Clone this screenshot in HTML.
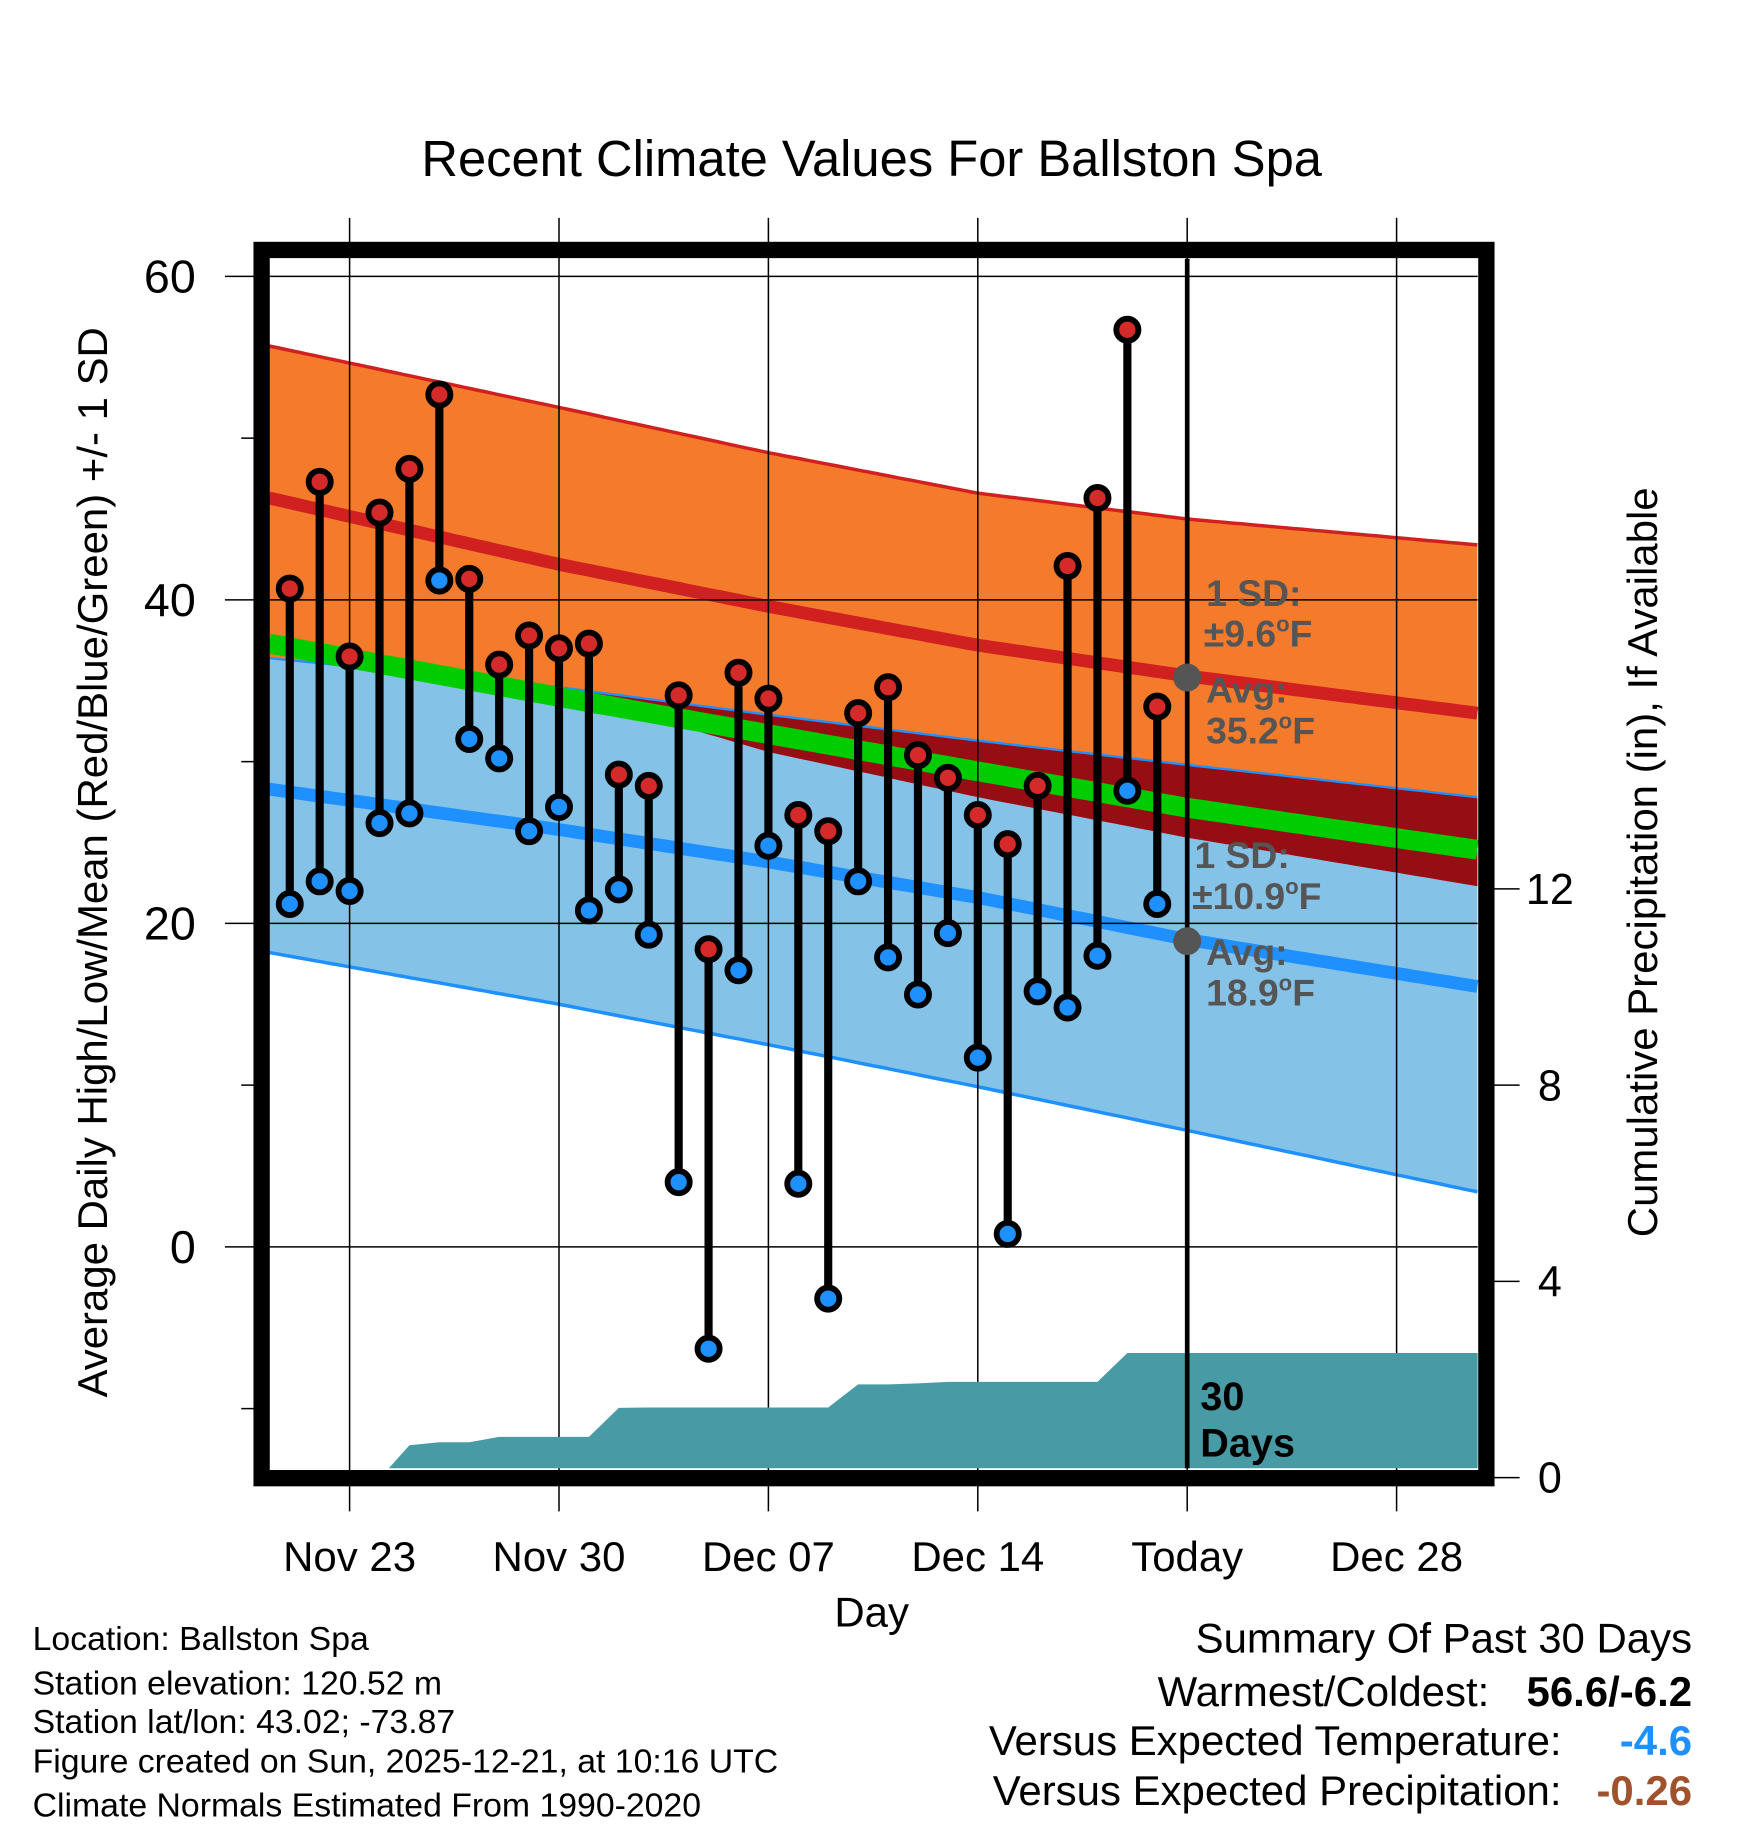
<!DOCTYPE html>
<html><head><meta charset="utf-8"><style>
html,body{margin:0;padding:0;background:#fff;}
svg{display:block;font-family:"Liberation Sans",Arial,sans-serif;}
</style></head><body>
<svg id="chart" xmlns="http://www.w3.org/2000/svg" width="1748" height="1828" viewBox="0 0 1500 1568.7" preserveAspectRatio="none">
<text x="748" y="151" font-size="43.5" text-anchor="middle">Recent Climate Values For Ballston Spa</text>
<g id="bands"></g>
<g id="grid"></g>
<g id="precip"></g>
<g id="marks"></g>
<g id="annot">
<text x="1035" y="520" font-size="32" font-weight="bold" fill="#555">1 SD:</text>
<text x="1033" y="555" font-size="32" font-weight="bold" fill="#555">±9.6<tspan dy="-13" font-size="19">o</tspan><tspan dy="13">F</tspan></text>
<text x="1035" y="603" font-size="32" font-weight="bold" fill="#555">Avg:</text>
<text x="1035" y="638" font-size="32" font-weight="bold" fill="#555">35.2<tspan dy="-13" font-size="19">o</tspan><tspan dy="13">F</tspan></text>
<text x="1025" y="745" font-size="32" font-weight="bold" fill="#555">1 SD:</text>
<text x="1023" y="780" font-size="32" font-weight="bold" fill="#555">±10.9<tspan dy="-13" font-size="19">o</tspan><tspan dy="13">F</tspan></text>
<text x="1035" y="828" font-size="32" font-weight="bold" fill="#555">Avg:</text>
<text x="1035" y="863" font-size="32" font-weight="bold" fill="#555">18.9<tspan dy="-13" font-size="19">o</tspan><tspan dy="13">F</tspan></text>
<text x="1030" y="1210" font-size="34" font-weight="bold">30</text>
<text x="1030" y="1250" font-size="34" font-weight="bold">Days</text>
</g>
<rect x="224.5" y="214.5" width="1051" height="1054" fill="none" stroke="#000" stroke-width="14"/>
<text x="748" y="1396" font-size="36" text-anchor="middle">Day</text>
<text transform="translate(92,740) rotate(-90)" font-size="36" text-anchor="middle">Average Daily High/Low/Mean (Red/Blue/Green) +/- 1 SD</text>
<text transform="translate(1422,740) rotate(-90)" font-size="36" text-anchor="middle">Cumulative Precipitation (in), If Available</text>
<g font-size="29">
<text x="28" y="1416">Location: Ballston Spa</text>
<text x="28" y="1454">Station elevation: 120.52 m</text>
<text x="28" y="1487">Station lat/lon: 43.02; -73.87</text>
<text x="28" y="1521">Figure created on Sun, 2025-12-21, at 10:16 UTC</text>
<text x="28" y="1559">Climate Normals Estimated From 1990-2020</text>
</g>
<g font-size="36">
<text x="1452" y="1418" text-anchor="end">Summary Of Past 30 Days</text>
<text x="1278" y="1464" text-anchor="end">Warmest/Coldest:</text>
<text x="1452" y="1464" text-anchor="end" font-weight="bold">56.6/-6.2</text>
<text x="1340" y="1506" text-anchor="end">Versus Expected Temperature:</text>
<text x="1452" y="1506" text-anchor="end" font-weight="bold" fill="#1E90FF">-4.6</text>
<text x="1340" y="1549" text-anchor="end">Versus Expected Precipitation:</text>
<text x="1452" y="1549" text-anchor="end" font-weight="bold" fill="#A0522D">-0.26</text>
</g>
</svg>
<script>
// data (days relative to Nov 23 = 0)
const obsDays = [-2,-1,0,1,2,3,4,5,6,7,8,9,10,11,12,13,14,15,16,17,18,19,20,21,22,23,24,25,26,27];
const highs = [40.7,47.3,36.5,45.4,48.1,52.7,41.3,36.0,37.8,37.0,37.3,29.2,28.5,34.1,18.4,35.5,33.9,26.7,25.7,33.0,34.6,30.4,29.0,26.7,24.9,28.5,42.1,46.3,56.7,33.4];
const lows = [21.2,22.6,22.0,26.2,26.8,41.2,31.4,30.2,25.7,27.2,20.8,22.1,19.3,4.0,-6.3,17.1,24.8,3.9,-3.2,22.6,17.9,15.6,19.4,11.7,0.8,15.8,14.8,18.0,28.2,21.2];
const precip = [0,0,0,0,0.66,0.72,0.72,0.83,0.83,0.83,0.83,1.42,1.43,1.43,1.43,1.43,1.43,1.43,1.43,1.90,1.90,1.92,1.95,1.95,1.95,1.95,1.95,1.95,2.54,2.54];
const normDays = [-2.69,7,14,21,28,37.7];
const normHighUpper = [55.7,51.9,49.1,46.6,45.0,43.4];
const normHigh = [46.3,42.2,39.6,37.2,35.3,33.0];
const normHighLower = [38.5,34.4,30.6,27.8,25.3,22.3];
const normLowUpper = [36.4,34.6,32.9,31.3,29.8,27.8];
const normLow = [28.3,25.8,23.8,21.6,19.0,16.1];
const normLowLower = [18.2,15.0,12.5,9.9,7.2,3.4];
const xTickDays = [0,7,14,21,28,35];
const xTickLabels = ["Nov 23","Nov 30","Dec 07","Dec 14","Today","Dec 28"];
const yTicks = [0,20,40,60];
const yMinor = [-10,10,30,50];
const y2Ticks = [0,4,8,12];

const NS="http://www.w3.org/2000/svg";
const L=231,R=1268,T=222,B=1260;
const xS=d=>300+d*25.67;
const yS=v=>1070-v*13.88;
const y2S=p=>1268-p*42.1;
function mk(tag,attrs,parent){const e=document.createElementNS(NS,tag);for(const k in attrs)e.setAttribute(k,attrs[k]);parent.appendChild(e);return e;}
function interp(arr,d){for(let i=0;i<normDays.length-1;i++){if(d<=normDays[i+1]||i==normDays.length-2){const t=(d-normDays[i])/(normDays[i+1]-normDays[i]);return arr[i]+t*(arr[i+1]-arr[i]);}}}
const samp=[];for(let d=normDays[0];d<=normDays[5]+1e-6;d+=0.25)samp.push(d);
if(samp[samp.length-1]<normDays[5])samp.push(normDays[5]);
function band(topF,botF,fill,name){
  let pts=samp.map(d=>xS(d).toFixed(1)+","+yS(topF(d)).toFixed(1));
  pts=pts.concat(samp.slice().reverse().map(d=>xS(d).toFixed(1)+","+yS(botF(d)).toFixed(1)));
  const p=mk('polygon',{points:pts.join(' '),fill:fill},bands);
  
  
}
function line(f,stroke,w,name){
  const p=mk('polyline',{points:samp.map(d=>xS(d).toFixed(1)+","+yS(f(d)).toFixed(1)).join(' '),fill:'none',stroke:stroke,'stroke-width':w},bands);
  
  
}
const bands=document.getElementById('bands');
band(d=>interp(normHighUpper,d),d=>Math.min(interp(normHighLower,d),interp(normLowUpper,d)),'#F47A2C','high-sd-band');
band(d=>interp(normLowUpper,d),d=>interp(normLowLower,d),'#84C2E8','low-sd-band');
band(d=>interp(normLowUpper,d),d=>Math.min(interp(normHighLower,d),interp(normLowUpper,d)),'#960E14','overlap-band');
line(d=>interp(normLowUpper,d),'#1E90FF',2,'low-upper-line');
line(d=>(interp(normHigh,d)+interp(normLow,d))/2,'#00CC00',17,'mean-line');
line(d=>interp(normHigh,d),'#D02020',11,'normal-high-line');
line(d=>interp(normLow,d),'#1E90FF',11,'normal-low-line');
line(d=>interp(normHighUpper,d),'#D02020',3,'high-upper-line');
line(d=>interp(normLowLower,d),'#1E90FF',3,'low-lower-line');

const grid=document.getElementById('grid');
xTickDays.forEach((d,i)=>{
  const l=mk('line',{x1:xS(d),x2:xS(d),y1:187,y2:1297,stroke:'#000','stroke-width':1.3},grid);
  
  
  const t=mk('text',{x:xS(d),y:1348,'font-size':36,'text-anchor':'middle'},grid);
  t.textContent=xTickLabels[i];
  
  
});
yTicks.forEach(v=>{
  const l=mk('line',{x1:193,x2:R,y1:yS(v),y2:yS(v),stroke:'#000','stroke-width':1.3},grid);
  
  
  const t=mk('text',{x:168,y:yS(v)+14,'font-size':40,'text-anchor':'end'},grid);
  t.textContent=v;
  
  
});
yMinor.forEach(v=>{
  const l=mk('line',{x1:207,x2:220,y1:yS(v),y2:yS(v),stroke:'#000','stroke-width':1.3},grid);
  
  
});
y2Ticks.forEach(p=>{
  const l=mk('line',{x1:1282,x2:1304,y1:y2S(p),y2:y2S(p),stroke:'#000','stroke-width':1.3},grid);
  
  
  const t=mk('text',{x:1330,y:y2S(p)+13,'font-size':37,'text-anchor':'middle'},grid);
  t.textContent=p;
  
  
});

const pg=document.getElementById('precip');
let pp=[(xS(obsDays[3])+8)+","+B];
obsDays.forEach((d,i)=>{ if(i>3) pp.push(xS(d)+","+Math.min(B,y2S(precip[i]))); });
pp.push(R+","+Math.min(B,y2S(precip[precip.length-1])));
pp.push(R+","+B);
const pa=mk('polygon',{points:pp.join(' '),fill:'#489AA4'},pg);


const tl=mk('line',{x1:xS(28),x2:xS(28),y1:T,y2:B,stroke:'#000','stroke-width':4},pg);



const mg=document.getElementById('marks');
obsDays.forEach((d,i)=>{
  const s=mk('line',{x1:xS(d),x2:xS(d),y1:yS(highs[i]),y2:yS(lows[i]),stroke:'#000','stroke-width':7},mg);
  
  
});
obsDays.forEach((d,i)=>{
  const h=mk('circle',{cx:xS(d),cy:yS(highs[i]),r:9.5,fill:'#D42A2A',stroke:'#000','stroke-width':5},mg);
  
  
  const lo=mk('circle',{cx:xS(d),cy:yS(lows[i]),r:9.5,fill:'#1E90FF',stroke:'#000','stroke-width':5},mg);
  
  
});
const a1=mk('circle',{cx:xS(28),cy:yS(35.2),r:12,fill:'#555'},mg);


const a2=mk('circle',{cx:xS(28),cy:yS(18.9),r:12,fill:'#555'},mg);


</script>
</body></html>
